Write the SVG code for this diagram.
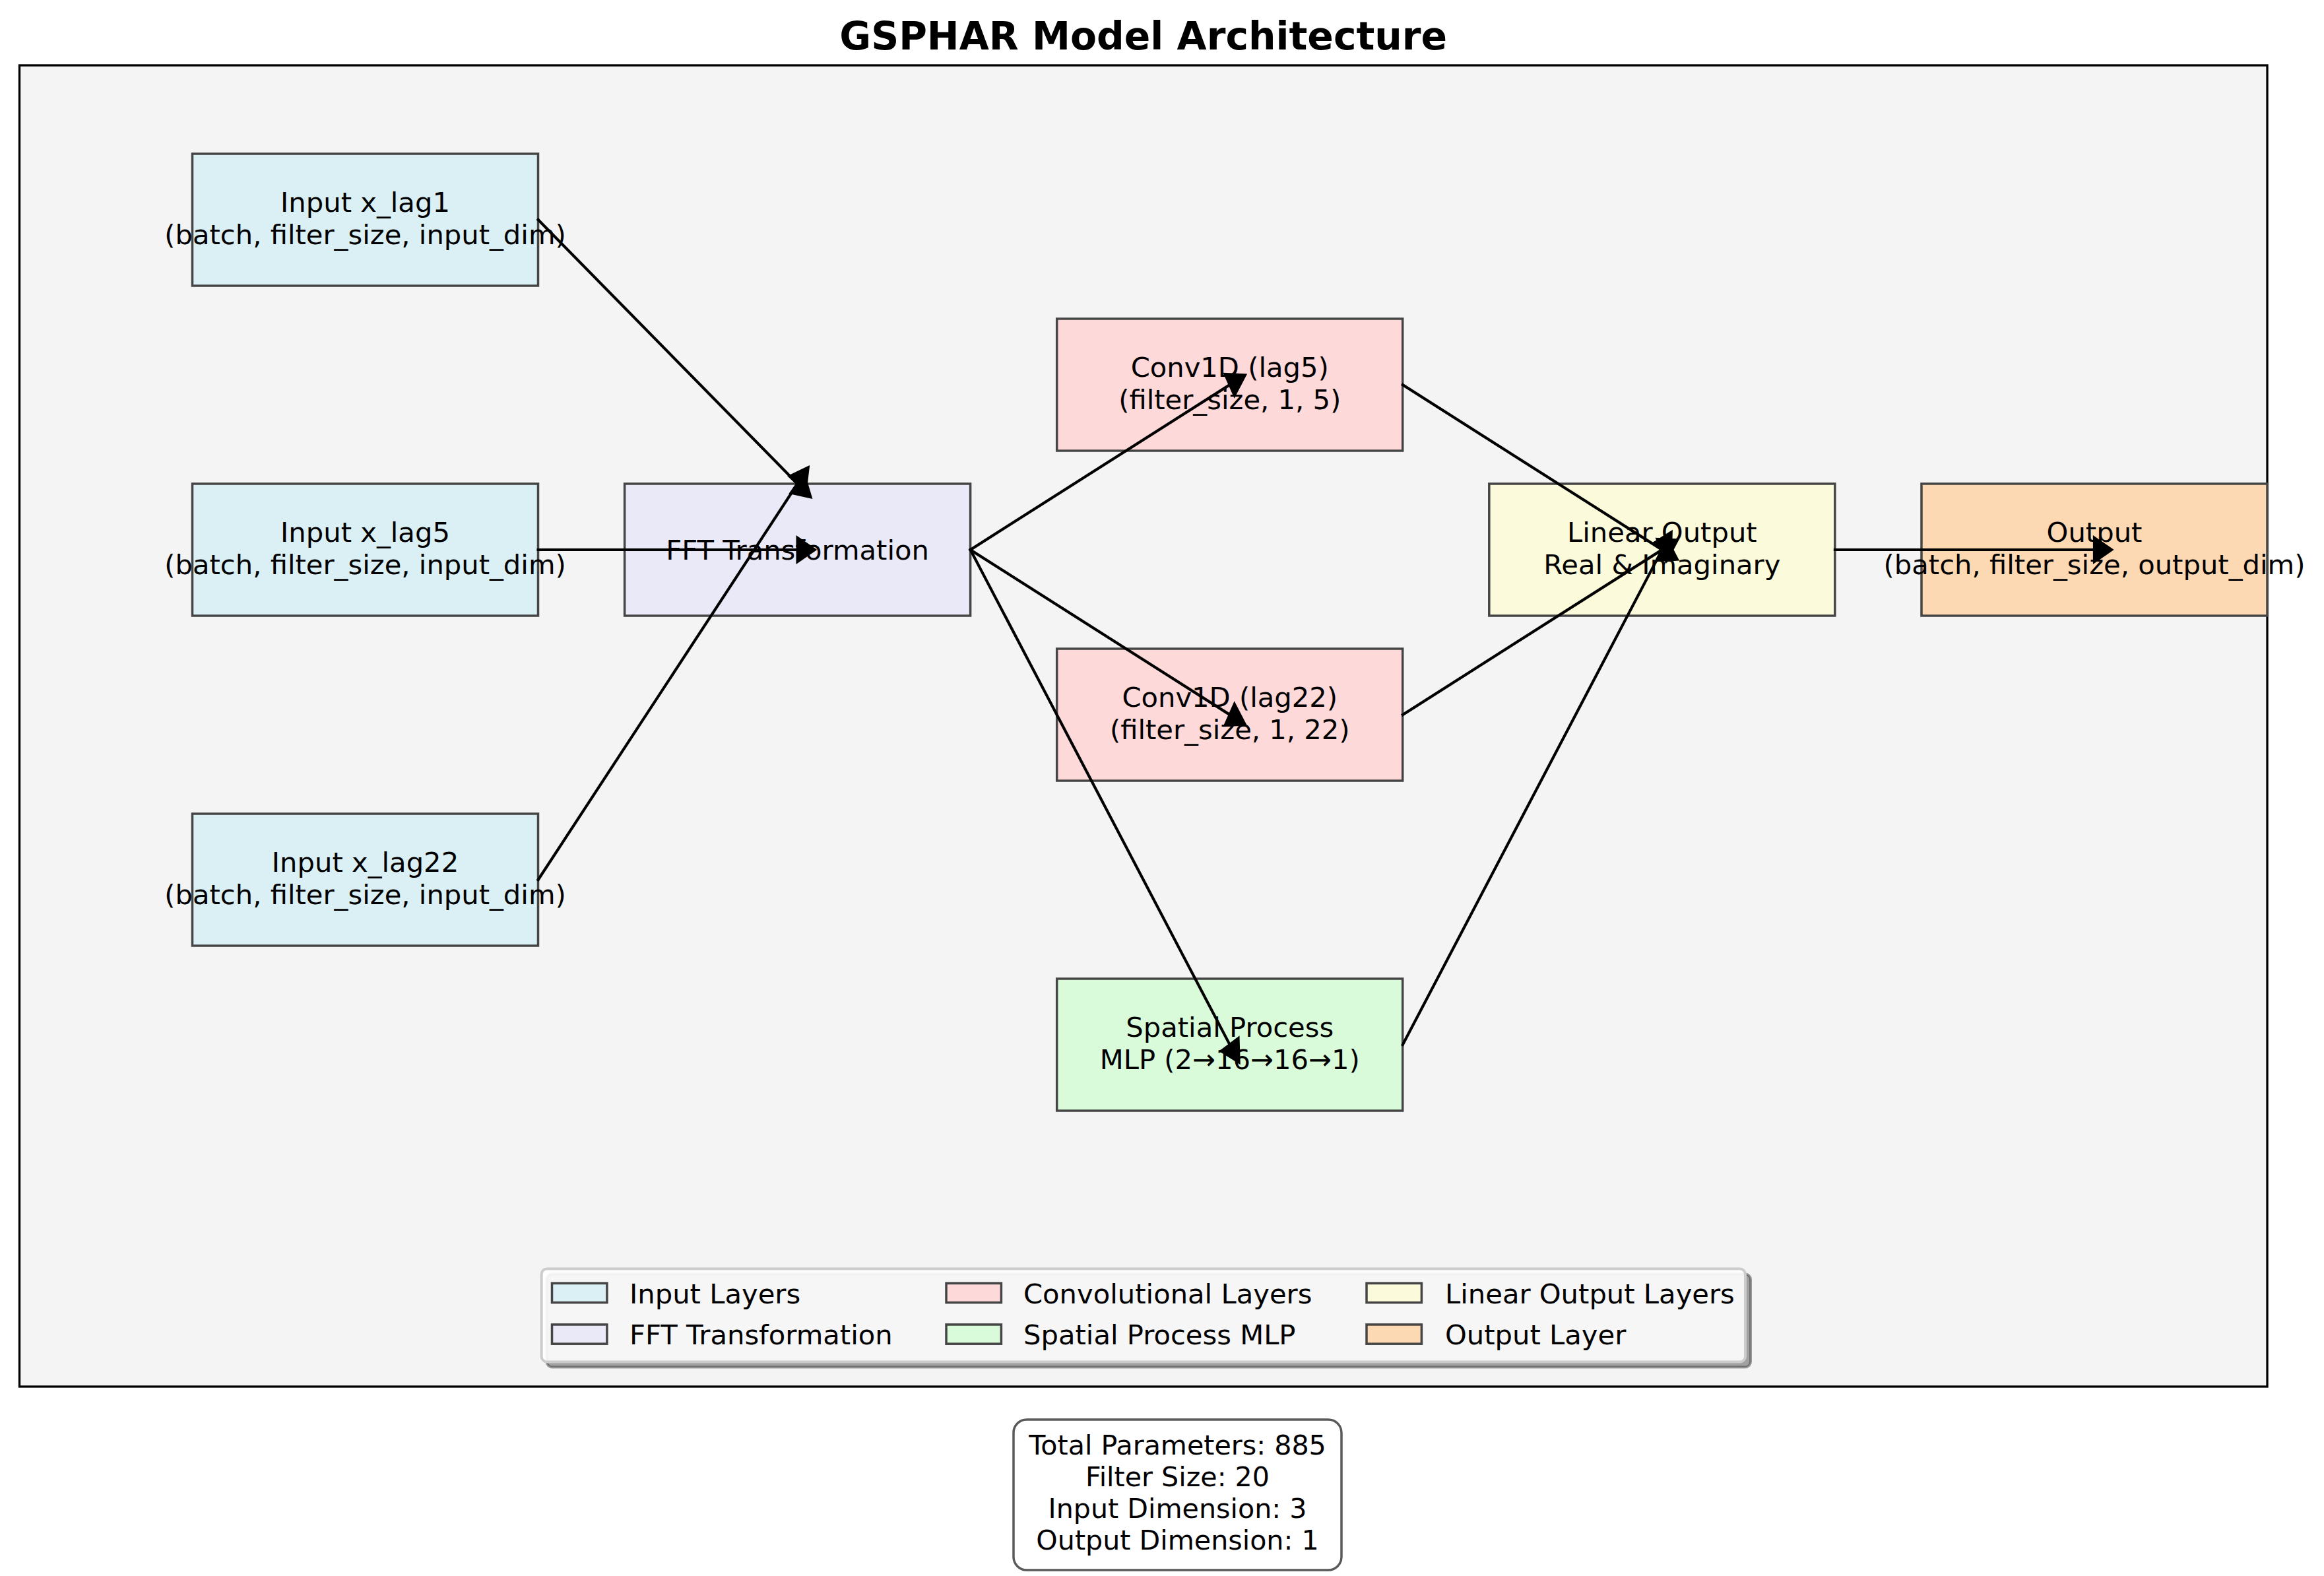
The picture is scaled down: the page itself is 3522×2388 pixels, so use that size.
<svg xmlns="http://www.w3.org/2000/svg" width="3522" height="2388" viewBox="0 0 3522 2388">
<style>
text{font-family:"DejaVu Sans","Liberation Sans",sans-serif;fill:#000}
.lbl{font-size:41.7px;text-anchor:middle}
.leg{font-size:41.7px}
.info{font-size:41.2px;text-anchor:middle}
.title{font-size:58.3px;font-weight:bold;text-anchor:middle}
.box{stroke:#454545;stroke-width:3.5}
.in{fill:#dbf0f5}.fft{fill:#eae9f8}.conv{fill:#fdd9d9}.sp{fill:#d9fbd9}.lin{fill:#fbfbdb}.out{fill:#fcd9b2}
.ln{stroke:#000;stroke-width:4.2;fill:none;stroke-linecap:square}
.hd{fill:#000;stroke:#000;stroke-width:4.2;stroke-linejoin:miter}
</style>
<rect width="3522" height="2388" fill="#fff"/>
<text class="title" x="1732.7" y="75">GSPHAR Model Architecture</text>
<rect id="frame" x="29.5" y="99" width="3406.5" height="2002" fill="#f4f4f4" stroke="#000" stroke-width="3.3"/>

<g id="input_lag1">
<rect class="box in" x="291.5" y="233" width="524" height="200"/>
<text class="lbl" x="553.5" y="320.5">Input x_lag1</text>
<text class="lbl" x="553.5" y="370">(batch, filter_size, input_dim)</text>
</g>
<g id="input_lag5">
<rect class="box in" x="291.5" y="733" width="524" height="200"/>
<text class="lbl" x="553.5" y="820.5">Input x_lag5</text>
<text class="lbl" x="553.5" y="870">(batch, filter_size, input_dim)</text>
</g>
<g id="input_lag22">
<rect class="box in" x="291.5" y="1233" width="524" height="200"/>
<text class="lbl" x="553.5" y="1320.5">Input x_lag22</text>
<text class="lbl" x="553.5" y="1370">(batch, filter_size, input_dim)</text>
</g>
<g id="fft">
<rect class="box fft" x="946.6" y="733" width="524" height="200"/>
<text class="lbl" x="1208.6" y="848">FFT Transformation</text>
</g>
<g id="conv_lag5">
<rect class="box conv" x="1601.7" y="483" width="524" height="200"/>
<text class="lbl" x="1863.75" y="570.5">Conv1D (lag5)</text>
<text class="lbl" x="1863.75" y="620">(filter_size, 1, 5)</text>
</g>
<g id="conv_lag22">
<rect class="box conv" x="1601.7" y="983" width="524" height="200"/>
<text class="lbl" x="1863.75" y="1070.5">Conv1D (lag22)</text>
<text class="lbl" x="1863.75" y="1120">(filter_size, 1, 22)</text>
</g>
<g id="spatial">
<rect class="box sp" x="1601.7" y="1483" width="524" height="200"/>
<text class="lbl" x="1863.75" y="1570.5">Spatial Process</text>
<text class="lbl" x="1863.75" y="1620">MLP (2→16→16→1)</text>
</g>
<g id="linear_output">
<rect class="box lin" x="2256.8" y="733" width="524" height="200"/>
<text class="lbl" x="2518.85" y="820.5">Linear Output</text>
<text class="lbl" x="2518.85" y="870">Real &amp; Imaginary</text>
</g>
<g id="output">
<rect class="box out" x="2912" y="733" width="524" height="200"/>
<text class="lbl" x="3174" y="820.5">Output</text>
<text class="lbl" x="3174" y="870">(batch, filter_size, output_dim)</text>
</g>

<g id="connectors">
<line class="ln" x1="815.6" y1="333" x2="1208.6" y2="733"/>
<polygon class="hd" points="1228.4,753.2 1218.3,719.3 1198.9,746.7"/>
<line class="ln" x1="815.6" y1="833" x2="1208.6" y2="833"/>
<polygon class="hd" points="1234.6,833 1208.6,815 1208.6,851"/>
<line class="ln" x1="815.6" y1="1333" x2="1208.6" y2="733"/>
<polygon class="hd" points="1224.65,708.5 1196.8,721.9 1220.4,744.1"/>
<line class="ln" x1="1470.6" y1="833" x2="1863.75" y2="583"/>
<polygon class="hd" points="1886.7,568.4 1856.7,567.1 1870.8,598.9"/>
<line class="ln" x1="1470.6" y1="833" x2="1863.75" y2="1083"/>
<polygon class="hd" points="1886.7,1097.6 1870.8,1067.1 1856.7,1098.9"/>
<line class="ln" x1="1470.6" y1="833" x2="1863.75" y2="1583"/>
<polygon class="hd" points="1877.6,1609.4 1876.5,1573.4 1851.0,1592.6"/>
<line class="ln" x1="2125.8" y1="583" x2="2518.85" y2="833"/>
<polygon class="hd" points="2541.8,847.6 2525.9,817.1 2511.8,848.9"/>
<line class="ln" x1="2125.8" y1="1083" x2="2518.85" y2="833"/>
<polygon class="hd" points="2541.8,818.4 2511.8,817.1 2525.9,848.9"/>
<line class="ln" x1="2125.8" y1="1583" x2="2518.85" y2="833"/>
<polygon class="hd" points="2532.7,806.6 2506.1,823.4 2531.6,842.6"/>
<line class="ln" x1="2780.9" y1="833" x2="3174" y2="833"/>
<polygon class="hd" points="3200,833 3174,815 3174,851"/>
</g>

<g id="legend">
<rect x="828.6" y="1930.5" width="1824.4" height="141" rx="8.3" fill="#4d4d4d" fill-opacity="0.5" stroke="#3d3d3d" stroke-opacity="0.5" stroke-width="4"/>
<rect x="820.6" y="1922.5" width="1824.4" height="141" rx="8.3" fill="#fff" fill-opacity="0.9" stroke="#cccccc" stroke-width="4"/>
<rect class="box in" x="836.5" y="1944.5" width="83.4" height="29.2"/>
<text class="leg" x="954" y="1974.5">Input Layers</text>
<rect class="box fft" x="836.5" y="2007" width="83.4" height="29.2"/>
<text class="leg" x="954" y="2037">FFT Transformation</text>
<rect class="box conv" x="1434" y="1944.5" width="83.4" height="29.2"/>
<text class="leg" x="1551" y="1974.5">Convolutional Layers</text>
<rect class="box sp" x="1434" y="2007" width="83.4" height="29.2"/>
<text class="leg" x="1551" y="2037">Spatial Process MLP</text>
<rect class="box lin" x="2071" y="1944.5" width="83.4" height="29.2"/>
<text class="leg" x="2190" y="1974.5">Linear Output Layers</text>
<rect class="box out" x="2071" y="2007" width="83.4" height="29.2"/>
<text class="leg" x="2190" y="2037">Output Layer</text>
</g>

<g id="info">
<rect x="1536" y="2151" width="497" height="228" rx="20" fill="#fff" stroke="#5a5a5a" stroke-width="3.5"/>
<text class="info" x="1784.5" y="2204">Total Parameters: 885</text>
<text class="info" x="1784.5" y="2252">Filter Size: 20</text>
<text class="info" x="1784.5" y="2300">Input Dimension: 3</text>
<text class="info" x="1784.5" y="2348">Output Dimension: 1</text>
</g>
</svg>
